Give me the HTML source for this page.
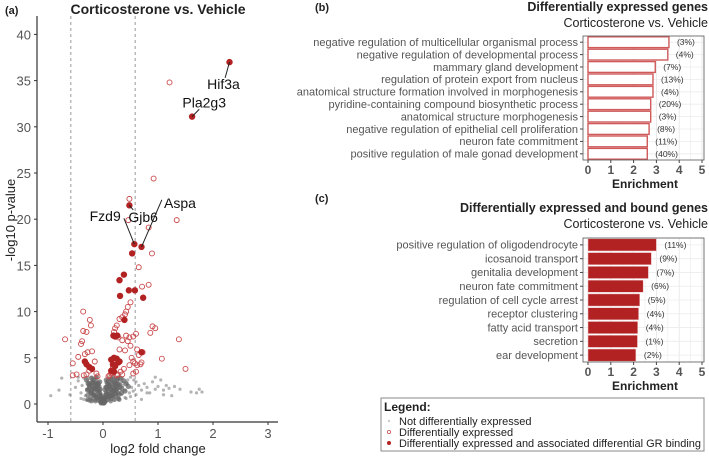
<!DOCTYPE html>
<html><head><meta charset="utf-8"><style>
html,body{margin:0;padding:0;background:#fff;}
svg{display:block;font-family:"Liberation Sans",sans-serif;}
</style></head><body>
<svg id="root" width="709" height="456" viewBox="0 0 709 456">
<g id="volcano"></g>
<g id="panelB"></g>
<g id="panelC"></g>
<g id="legend">
<rect x="381" y="398" width="323" height="53" fill="#fff" stroke="#888" stroke-width="1"/>
<text x="384" y="411" font-size="12" font-weight="bold" fill="#222">Legend:</text>
<circle cx="389" cy="421" r="1.2" fill="#ccc"/>
<text x="399" y="425" font-size="11" fill="#222">Not differentially expressed</text>
<circle cx="389" cy="432" r="1.6" fill="none" stroke="#c05050" stroke-width="0.8"/>
<text x="399" y="436" font-size="11" fill="#222">Differentially expressed</text>
<circle cx="389" cy="443" r="2" fill="#b22222"/>
<text x="399" y="447" font-size="11" fill="#222" textLength="302" lengthAdjust="spacingAndGlyphs">Differentially expressed and associated differential GR binding</text>
</g>
</svg>
<script>
// ---------- Volcano data ----------
const xTicks=[-1,0,1,2,3];
const yTicks=[0,5,10,15,20,25,30,35,40];
const grayX=[-0.95,-0.8,-0.75,-0.6,-0.5,-0.45,-0.4,-0.38,-0.35,-0.32,-0.3,-0.28,-0.25,-0.22,-0.2,-0.18,-0.15,-0.12,-0.1,-0.08,-0.06,-0.04,-0.02,0,0.02,0.04,0.06,0.08,0.1,0.12,0.15,0.18,0.2,0.22,0.25,0.28,0.3,0.33,0.36,0.4,0.44,0.48,0.52,0.56,0.6,0.65,0.7,0.75,0.8,0.85,0.9,0.95,1.0,1.05,1.1,1.15,1.2,1.3,1.4,1.6,1.7,1.8,-0.35,-0.3,-0.25,-0.2,-0.15,-0.1,-0.05,0.05,0.1,0.15,0.2,0.25,0.3,0.35,0.4,0.45,0.5,0.55,-0.28,-0.22,-0.16,-0.1,0.1,0.16,0.22,0.28,0.35,0.42,0.5,-0.2,-0.12,-0.06,0.06,0.12,0.2,0.3,-0.45,-0.4,0.6,0.7,0.8,0.95,1.1,1.25,1.75,-0.05,0.03,-0.02,0.0];
const grayY=[0.9,1.5,2.8,1.0,1.8,2.5,1.2,2.0,2.8,0.9,1.6,2.5,1.3,2.0,2.9,1.1,1.8,2.6,0.8,1.5,0.6,1.0,0.4,0.2,0.5,0.8,1.2,1.6,2.2,1.0,2.6,1.4,2.0,2.8,1.2,1.8,2.5,1.0,2.0,1.5,2.2,1.2,1.8,2.6,1.0,2.0,1.5,2.2,1.8,1.2,2.4,1.6,1.9,2.6,1.5,2.0,1.7,1.9,1.6,1.3,1.2,1.3,0.5,0.4,2.2,0.6,2.3,1.9,1.2,1.9,0.9,1.3,0.7,1.6,0.6,2.8,0.7,2.6,0.8,1.4,2.9,1.1,2.7,2.4,2.9,2.4,1.1,2.9,2.4,0.6,2.9,0.4,2.8,0.3,0.3,2.7,0.4,2.1,2.9,0.6,2.4,0.5,1.2,2.9,1.0,0.9,1.6,0.1,0.1,0.3,0.7];
const coreX=[-0.3,-0.27,-0.24,-0.21,-0.18,-0.15,-0.12,-0.09,-0.06,-0.03,0.03,0.06,0.09,0.12,0.15,0.18,0.21,0.24,0.27,0.3,0.34,0.38,0.42,0.46,-0.28,-0.22,-0.16,-0.1,-0.05,0.05,0.1,0.16,0.22,0.28,0.34,0.4,-0.25,-0.18,-0.12,-0.06,0.06,0.12,0.18,0.25,0.32,-0.2,-0.14,-0.08,0.08,0.14,0.2,0.26,-0.02,0.02,0.0];
const coreY=[2.6,2.2,1.8,2.8,2.3,1.6,2.9,1.3,0.9,0.5,0.6,1.0,1.4,2.0,2.7,1.8,2.4,1.5,2.8,2.1,1.7,2.5,2.2,1.9,1.5,1.2,1.0,2.1,1.6,1.8,2.5,0.9,1.1,1.0,1.2,1.4,2.0,2.6,0.7,2.4,2.6,0.8,2.9,2.6,2.8,1.5,1.9,0.4,0.5,1.6,1.4,2.1,0.2,0.2,0.1];
const deX=[1.21,0.92,0.48,1.34,0.46,0.83,0.89,0.65,0.83,0.71,1.38,1.07,1.5,-0.69,-0.55,-0.36,-0.24,-0.22,-0.36,-0.3,-0.38,-0.4,-0.33,-0.28,-0.2,-0.15,-0.12,-0.3,-0.25,0.5,0.45,0.42,0.4,0.35,0.3,0.25,0.22,0.2,0.28,0.35,0.42,0.48,0.55,0.6,0.62,0.65,0.52,0.55,0.48,0.38,0.32,0.27,0.15,0.12,0.18,0.4,0.5,0.58,0.9,0.95,0.86,0.72,0.68,0.62,0.6,-0.45,-0.55,-0.48,-0.35,-0.2,-0.1,0.1,0.15,0.3,0.45,0.55,0.7,0.35,0.25];
const deY=[34.8,24.4,22.2,19.9,19.9,19.1,16.3,14.8,12.9,12.7,7.0,4.9,3.8,7.0,4.4,10.0,9.1,8.5,7.9,7.8,6.8,6.5,5.4,5.6,5.7,4.6,3.3,3.2,3.6,11.0,10.5,10.0,9.7,9.4,9.2,8.5,8.2,7.8,7.2,6.9,7.4,7.2,7.3,7.6,5.9,5.3,5.0,4.6,4.2,3.8,3.5,3.2,3.5,3.1,4.0,5.8,6.3,4.4,8.4,8.2,7.7,5.6,4.3,4.2,3.5,5.1,3.1,3.2,3.1,3.8,3.0,3.0,3.3,5.9,6.8,3.3,4.5,3.2,3.1];
const bdX=[2.30,1.62,0.48,0.57,0.70,0.53,0.38,0.30,0.47,0.58,0.31,0.73,0.39,0.19,0.26,0.22,0.70,0.15,0.2,0.25,0.3,0.18,0.22,0.28,0.15,0.2,-0.33,-0.25,-0.3,-0.2];
const bdY=[37.0,31.1,21.5,17.3,17.0,16.3,14.0,13.4,12.3,12.3,11.7,11.5,9.1,7.4,7.4,7.3,5.6,4.8,5.0,4.9,4.6,4.3,4.1,4.5,3.6,3.5,4.6,4.0,4.3,3.8];
const labelNames=["Hif3a","Pla2g3","Gjb6","Fzd9","Aspa"];
const labelPX=[2.30,1.62,0.48,0.57,0.70];
const labelPY=[37.0,31.1,21.5,17.3,17.0];
const labelTX=[2.19,1.84,0.73,0.04,1.40];
const labelTY=[34.1,32.1,19.7,19.8,21.2];
const labelEX=[2.22,1.75,0.55,0.38,1.07];
const labelEY=[35.3,31.9,21.0,20.1,22.1];

// ---------- Enrichment data ----------
const bTerms=["negative regulation of multicellular organismal process","negative regulation of developmental process","mammary gland development","regulation of protein export from nucleus","anatomical structure formation involved in morphogenesis","pyridine-containing compound biosynthetic process","anatomical structure morphogenesis","negative regulation of epithelial cell proliferation","neuron fate commitment","positive regulation of male gonad development"];
const bValues=[3.55,3.5,2.95,2.85,2.85,2.75,2.75,2.68,2.6,2.6];
const bPct=["(3%)","(4%)","(7%)","(13%)","(4%)","(20%)","(3%)","(8%)","(11%)","(40%)"];
const cTerms=["positive regulation of oligodendrocyte","icosanoid transport","genitalia development","neuron fate commitment","regulation of cell cycle arrest","receptor clustering","fatty acid transport","secretion","ear development"];
const cValues=[3.0,2.78,2.65,2.42,2.27,2.22,2.18,2.17,2.1];
const cPct=["(11%)","(9%)","(7%)","(6%)","(5%)","(4%)","(4%)","(1%)","(2%)"];
const enrichTicks=[0,1,2,3,4,5];

const NS="http://www.w3.org/2000/svg";
function mk(parent,tag,attrs,text){const e=document.createElementNS(NS,tag);for(const k in attrs)e.setAttribute(k,attrs[k]);if(text!==undefined)e.textContent=text;parent.appendChild(e);return e;}

// Volcano
(function(){
const g=document.getElementById('volcano');
const sx=v=>103+v*55, sy=v=>404-v*9.24;
let t=mk(g,'text',{x:5,y:14,'font-size':11,'font-weight':'bold',fill:'#222'},'(a)');


t=mk(g,'text',{x:158,y:14,'font-size':14,'font-weight':'bold',fill:'#222','text-anchor':'middle'},'Corticosterone vs. Vehicle');


[-0.585,0.585].forEach(v=>{const l=mk(g,'line',{x1:sx(v),x2:sx(v),y1:16,y2:422,stroke:'#999','stroke-dasharray':'3,3','stroke-width':1});

});
for(let i=0;i<grayX.length;i++){const c=mk(g,'circle',{cx:sx(grayX[i]),cy:sy(grayY[i]),r:1.6,fill:'#777','fill-opacity':0.55});

}
for(let i=0;i<grayX.length;i++){if(Math.abs(grayX[i])<0.45){const c=mk(g,'circle',{cx:sx(grayX[i]*0.7),cy:sy(grayY[i]*0.8),r:2.4,fill:'#6a6a6a','fill-opacity':0.7});

}}
for(let i=0;i<coreX.length;i++){const c=mk(g,'circle',{cx:sx(coreX[i]),cy:sy(coreY[i]),r:2.6,fill:'#666','fill-opacity':0.75});

}
for(let i=0;i<deX.length;i++){const c=mk(g,'circle',{cx:sx(deX[i]),cy:sy(deY[i]),r:2.5,fill:'none',stroke:'#c9474a','stroke-width':0.9});

}
for(let i=0;i<bdX.length;i++){const c=mk(g,'circle',{cx:sx(bdX[i]),cy:sy(bdY[i]),r:3.2,fill:'#b22222'});

}
for(let i=0;i<labelNames.length;i++){
const l=mk(g,'line',{x1:sx(labelPX[i]),y1:sy(labelPY[i]),x2:sx(labelEX[i]),y2:sy(labelEY[i]),stroke:'#222','stroke-width':1});


const tx=mk(g,'text',{x:sx(labelTX[i]),y:sy(labelTY[i]),'font-size':14,fill:'#111','text-anchor':'middle'},labelNames[i]);

}
let ax=mk(g,'line',{x1:37,x2:37,y1:16,y2:422,stroke:'#333','stroke-width':1.2});


ax=mk(g,'line',{x1:37,x2:278,y1:422,y2:422,stroke:'#333','stroke-width':1.2});


xTicks.forEach(v=>{mk(g,'line',{x1:sx(v),x2:sx(v),y1:422,y2:425,stroke:'#333'});
const tt=mk(g,'text',{x:sx(v),y:438,'font-size':13,fill:'#555','text-anchor':'middle'},String(v));

});
yTicks.forEach(v=>{mk(g,'line',{x1:34,x2:37,y1:sy(v),y2:sy(v),stroke:'#333'});
const tt=mk(g,'text',{x:31,y:sy(v)+5,'font-size':13,fill:'#555','text-anchor':'end'},String(v));

});
t=mk(g,'text',{x:158,y:453,'font-size':13,fill:'#222','text-anchor':'middle'},'log2 fold change');


t=mk(g,'text',{x:0,y:0,'font-size':13,fill:'#222','text-anchor':'middle',transform:'translate(15,220) rotate(-90)'},'-log10 p-value');


})();

function enrich(id,letter,letterY,title,titleY,terms,vals,pct,top,bottom,filled){
const g=document.getElementById(id);
const sx=v=>588+v*22.8;
const n=terms.length, step=(bottom-top)/n;
let t=mk(g,'text',{x:315,y:letterY,'font-size':11,'font-weight':'bold',fill:'#222'},letter);


t=mk(g,'text',{x:708,y:titleY,'font-size':12.5,'font-weight':'bold',fill:'#222','text-anchor':'end'},title);


t=mk(g,'text',{x:708,y:titleY+16,'font-size':12.5,fill:'#222','text-anchor':'end'},'Corticosterone vs. Vehicle');


mk(g,'rect',{x:583,y:top,width:121,height:bottom-top,fill:'#fff'});
for(let v=0;v<=5;v+=0.5){mk(g,'line',{x1:sx(v),x2:sx(v),y1:top,y2:bottom,stroke:v%1===0?'#e4e4e4':'#f0f0f0','stroke-width':0.8});}
for(let i=0;i<n;i++){const cy=top+step*(i+0.5);mk(g,'line',{x1:583,x2:704,y1:cy,y2:cy,stroke:'#ececec','stroke-width':0.8});}
if(!filled){const d=mk(g,'line',{x1:sx(2),x2:sx(2),y1:top,y2:bottom,stroke:'#aaa','stroke-dasharray':'2,2'});

}
for(let i=0;i<n;i++){
const cy=top+step*(i+0.5), h=step-1.6;
const r=mk(g,'rect',{x:sx(0),y:cy-h/2,width:sx(vals[i])-sx(0),height:h,fill:filled?'#b22222':'#fff',stroke:filled?'#f0d0d0':'#d05a5a','stroke-width':filled?0.5:1.4});


const p=mk(g,'text',{x:sx(vals[i])+8,y:cy+3,'font-size':8.5,fill:'#333'},pct[i]);


mk(g,'line',{x1:580,x2:583,y1:cy,y2:cy,stroke:'#444'});
const l=mk(g,'text',{x:578,y:cy+3.8,'font-size':11,fill:'#555','text-anchor':'end'},terms[i]);

}
const fr=mk(g,'rect',{x:583,y:top,width:121,height:bottom-top,fill:'none',stroke:'#555','stroke-width':0.8});


enrichTicks.forEach(v=>{mk(g,'line',{x1:sx(v),x2:sx(v),y1:bottom,y2:bottom+3,stroke:'#444'});
const tt=mk(g,'text',{x:sx(v),y:bottom+14,'font-size':12,'font-weight':'bold',fill:'#555','text-anchor':'middle'},String(v));

});
t=mk(g,'text',{x:645,y:bottom+28,'font-size':12,'font-weight':'bold',fill:'#222','text-anchor':'middle'},'Enrichment');


}
enrich('panelB','(b)',11,'Differentially expressed genes',11,bTerms,bValues,bPct,36,160,false);
enrich('panelC','(c)',202,'Differentially expressed and bound genes',212,cTerms,cValues,cPct,238,362,true);
</script>
</body></html>
